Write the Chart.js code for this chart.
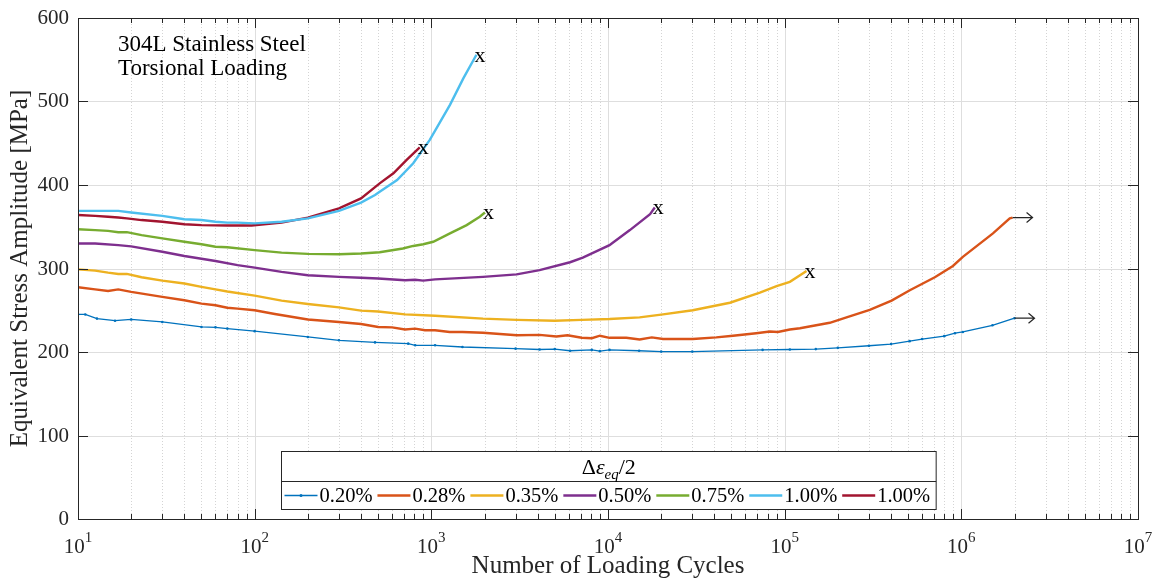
<!DOCTYPE html>
<html>
<head>
<meta charset="utf-8">
<script src="https://cdn.jsdelivr.net/npm/chart.js@4.4.0/dist/chart.umd.min.js"></script>
<style>
  html, body { margin: 0; padding: 0; background: #fff; }
</style>
</head>
<body>
<canvas id="chart" width="1160" height="582"></canvas>
<script>
const SERIF = '"Liberation Serif", "DejaVu Serif", serif';
const INK = "#262626";

// strain amplitude of each test, same order as the curves below
const seriesLabels = ["0.20%", "0.28%", "0.35%", "0.50%", "0.75%", "1.00%", "1.00%"];
const seriesColors = ["#0072BD", "#D95319", "#EDB120", "#7E2F8E", "#77AC30", "#4DBEEE", "#A2142F"];
// "x" = specimen failed, "arrow" = runout
const seriesEnds = ["arrow", "arrow", "x", "x", "x", "x", "x"];

const cycles020 = [10, 11, 12.8, 16.2, 20, 30, 50, 60, 70, 100, 200, 300, 480, 740, 810, 1050, 1500, 3000, 4100, 5000, 6100, 8100, 9000, 10200, 15000, 20000, 30000, 75000, 107000, 150000, 200000, 300000, 400000, 510000, 600000, 800000, 920000, 1020000, 1500000, 2000000];
const stress020 = [245, 245, 240, 237.5, 239, 236, 230, 229.5, 228, 225, 218, 214, 211.5, 210, 208, 208, 206, 204, 203, 203.5, 201.5, 202.5, 201, 202.5, 201.5, 200.5, 200.5, 202.5, 203, 203.5, 205, 207.5, 209.5, 213, 215.5, 219, 222.5, 224, 232, 240.5];

const cycles028 = [10, 12.5, 14.8, 16.9, 20, 30, 40, 50, 60, 70, 80, 100, 130, 200, 300, 400, 500, 600, 710, 810, 920, 1050, 1270, 1500, 1960, 3050, 4100, 5100, 5900, 7100, 8100, 9000, 10200, 12700, 15100, 17700, 20500, 30200, 41000, 51000, 69000, 82500, 91500, 107000, 122000, 180000, 224000, 303000, 403000, 511000, 708000, 896000, 1020000, 1510000, 1880000, 1950000];
const stress028 = [277.5, 275, 273, 275, 272, 266, 262, 258, 256, 253, 252, 250, 245.5, 239, 236, 233.5, 230, 229.5, 227, 228, 226, 226, 224, 224, 223, 220, 220.5, 218.5, 220, 217, 216.5, 219.5, 217, 217, 215, 217.5, 215.5, 215.5, 217.5, 219.5, 222.5, 224.5, 224, 227, 228.5, 235, 241.5, 250.5, 261.5, 274, 289.5, 303, 314, 342, 360, 361];

const cycles035 = [10, 12.5, 14.8, 16.9, 18.9, 22.9, 30, 40, 50, 60, 70, 100, 142, 200, 300, 400, 500, 710, 1050, 1960, 3050, 5000, 7100, 10200, 15100, 20500, 30200, 49000, 72400, 90000, 107000, 133000];
const stress035 = [299, 297.5, 295, 293.5, 293.5, 289.5, 285.5, 282, 278, 275, 272.5, 267.5, 261.5, 257.5, 253.5, 249.5, 248.5, 245, 243.5, 240, 238.5, 237.5, 238.5, 239.5, 241.5, 245, 250, 259, 271, 279, 284, 297];

const cycles050 = [10, 12.5, 16.9, 20, 30, 40, 60, 80, 100, 142, 200, 300, 400, 500, 710, 810, 900, 1050, 1960, 3040, 4100, 6100, 7200, 10200, 10500, 13300, 17300, 18400];
const stress050 = [330, 330, 328, 326.5, 320, 315, 309, 304, 301, 296, 292, 290, 289, 288, 286, 286.5, 285.5, 287, 290, 293, 298, 307.5, 313, 328, 330, 346, 365, 373];

const cycles075 = [10, 12.5, 14.8, 16.9, 18.9, 22.9, 30, 40, 50, 60, 70, 100, 142, 200, 300, 400, 510, 690, 790, 900, 1025, 1275, 1585, 1880, 2010];
const stress075 = [347, 346, 345, 343.5, 343.5, 340, 336, 332, 329, 326, 325.5, 322, 319, 317.5, 317, 318, 319.5, 324, 327, 329, 332, 342, 352, 362, 367];

const cycles100a = [10, 12.5, 16.9, 20, 30, 40, 50, 60, 70, 80, 100, 142, 200, 300, 400, 480, 510, 640, 790, 980, 1275, 1520, 1800];
const stress100a = [369, 369, 369, 367, 363, 359, 358, 356, 355, 355, 354, 356, 360, 369, 379, 388, 392, 406, 426, 454, 496, 528, 556];

const cycles100b = [10, 12.5, 14.8, 16.9, 18.9, 22.9, 30, 40, 50, 70, 96, 142, 200, 300, 400, 510, 610, 725, 860];
const stress100b = [364, 363, 362, 361, 360, 358, 356, 353, 352, 351.5, 351.5, 355, 361, 372, 384, 402, 414, 430, 445];

const allCycles = [cycles020, cycles028, cycles035, cycles050, cycles075, cycles100a, cycles100b];
const allStress = [stress020, stress028, stress035, stress050, stress075, stress100a, stress100b];

const xDecades = [10, 100, 1000, 10000, 100000, 1000000, 10000000];
const yTicks = [0, 100, 200, 300, 400, 500, 600];

const datasets = seriesLabels.map((label, i) => ({
  label: label,
  data: allCycles[i].map((n, j) => ({ x: n, y: allStress[i][j] })),
  borderColor: seriesColors[i],
  backgroundColor: seriesColors[i],
  borderWidth: i === 0 ? 1.3 : 2.4,
  pointRadius: i === 0 ? 1.3 : 0,
  pointBorderWidth: 0,
  tension: 0,
  fill: false
}));

// MATLAB style axes: grid, inward ticks, box, labels, legend, end markers
const matlabAxes = {
  id: "matlabAxes",
  beforeDatasetsDraw(chart) {
    const { ctx, chartArea: a } = chart;
    const xs = chart.scales.x, ys = chart.scales.y;
    ctx.save();
    // minor x grid (dotted)
    ctx.strokeStyle = "#d4d4d4";
    ctx.lineWidth = 1;
    ctx.setLineDash([1, 2]);
    for (let d = 0; d < xDecades.length - 1; d++) {
      for (let k = 2; k <= 9; k++) {
        const px = Math.round(xs.getPixelForValue(xDecades[d] * k)) + 0.5;
        ctx.beginPath(); ctx.moveTo(px, a.top); ctx.lineTo(px, a.bottom); ctx.stroke();
      }
    }
    ctx.setLineDash([]);
    ctx.strokeStyle = "#dedede";
    xDecades.slice(1, -1).forEach(v => {
      const px = Math.round(xs.getPixelForValue(v)) + 0.5;
      ctx.beginPath(); ctx.moveTo(px, a.top); ctx.lineTo(px, a.bottom); ctx.stroke();
    });
    yTicks.slice(1, -1).forEach(v => {
      const py = Math.round(ys.getPixelForValue(v)) + 0.5;
      ctx.beginPath(); ctx.moveTo(a.left, py); ctx.lineTo(a.right, py); ctx.stroke();
    });
    ctx.restore();
  },
  afterDatasetsDraw(chart) {
    const { ctx, chartArea: a } = chart;
    const xs = chart.scales.x, ys = chart.scales.y;
    ctx.save();

    // end markers
    chart.data.datasets.forEach((ds, i) => {
      const pts = chart.getDatasetMeta(i).data;
      const p = pts[pts.length - 1];
      ctx.fillStyle = "#000";
      ctx.strokeStyle = INK;
      if (seriesEnds[i] === "x") {
        ctx.font = "22px " + SERIF;
        ctx.textAlign = "left";
        ctx.textBaseline = "middle";
        ctx.fillText("x", p.x - 2, p.y + 1);
      } else {
        ctx.lineWidth = 1.2;
        const tip = p.x + 20;
        ctx.beginPath();
        ctx.moveTo(p.x, p.y); ctx.lineTo(tip, p.y);
        ctx.moveTo(tip - 6, p.y - 5); ctx.lineTo(tip, p.y); ctx.lineTo(tip - 6, p.y + 5);
        ctx.stroke();
      }
    });

    // box
    ctx.strokeStyle = INK;
    ctx.lineWidth = 1;
    ctx.strokeRect(Math.round(a.left) + 0.5, Math.round(a.top) + 0.5, Math.round(a.right - a.left), Math.round(a.bottom - a.top));

    // x ticks
    for (let d = 0; d < xDecades.length; d++) {
      const px = Math.round(xs.getPixelForValue(xDecades[d])) + 0.5;
      ctx.beginPath();
      ctx.moveTo(px, a.bottom); ctx.lineTo(px, a.bottom - 10);
      ctx.moveTo(px, a.top); ctx.lineTo(px, a.top + 10);
      ctx.stroke();
      if (d < xDecades.length - 1) {
        for (let k = 2; k <= 9; k++) {
          const mx = Math.round(xs.getPixelForValue(xDecades[d] * k)) + 0.5;
          ctx.beginPath();
          ctx.moveTo(mx, a.bottom); ctx.lineTo(mx, a.bottom - 5);
          ctx.moveTo(mx, a.top); ctx.lineTo(mx, a.top + 5);
          ctx.stroke();
        }
      }
    }
    // y ticks and labels
    ctx.fillStyle = INK;
    ctx.font = "21px " + SERIF;
    ctx.textAlign = "right";
    ctx.textBaseline = "middle";
    yTicks.forEach(v => {
      const py = Math.round(ys.getPixelForValue(v)) + 0.5;
      ctx.beginPath();
      ctx.moveTo(a.left, py); ctx.lineTo(a.left + 10, py);
      ctx.moveTo(a.right, py); ctx.lineTo(a.right - 10, py);
      ctx.stroke();
      ctx.fillText(String(v), a.left - 9, py);
    });

    // x tick labels 10^n
    ctx.textBaseline = "alphabetic";
    ctx.textAlign = "left";
    xDecades.forEach(v => {
      const px = xs.getPixelForValue(v);
      const exp = String(Math.round(Math.log10(v)));
      ctx.font = "21px " + SERIF;
      const wb = ctx.measureText("10").width;
      ctx.font = "15px " + SERIF;
      const we = ctx.measureText(exp).width;
      const x0 = px - (wb + we) / 2;
      ctx.font = "21px " + SERIF;
      ctx.fillText("10", x0, a.bottom + 34);
      ctx.font = "15px " + SERIF;
      ctx.fillText(exp, x0 + wb, a.bottom + 23);
    });

    // axis titles
    ctx.font = "25px " + SERIF;
    ctx.textAlign = "center";
    ctx.textBaseline = "middle";
    ctx.fillText("Number of Loading Cycles", (a.left + a.right) / 2, a.bottom + 47);
    ctx.save();
    ctx.translate(20, (a.top + a.bottom) / 2);
    ctx.rotate(-Math.PI / 2);
    ctx.fillText("Equivalent Stress Amplitude [MPa]", 0, 0);
    ctx.restore();

    // annotation
    ctx.font = "23px " + SERIF;
    ctx.textAlign = "left";
    ctx.fillStyle = "#000";
    ctx.fillText("304L Stainless Steel", a.left + 40, a.top + 27);
    ctx.fillText("Torsional Loading", a.left + 40, a.top + 51);

    // legend
    ctx.font = "20.5px " + SERIF;
    const lineLen = 33, gap1 = 2, gap2 = 5;
    const widths = seriesLabels.map(s => lineLen + gap1 + ctx.measureText(s).width + gap2);
    const boxW = widths.reduce((s, w) => s + w, 0) + 4;
    const boxH = 58;
    const bx = Math.round((a.left + a.right) / 2 - boxW / 2) + 0.5;
    const by = Math.round(a.bottom - 10 - boxH) + 0.5;
    ctx.fillStyle = "#fff";
    ctx.fillRect(bx, by, boxW, boxH);
    ctx.strokeStyle = INK;
    ctx.lineWidth = 1;
    ctx.strokeRect(bx, by, boxW, boxH);
    ctx.beginPath();
    ctx.moveTo(bx, by + 30); ctx.lineTo(bx + boxW, by + 30);
    ctx.stroke();

    // legend title: Δε_eq/2
    ctx.fillStyle = "#000";
    ctx.textBaseline = "alphabetic";
    const tParts = [
      { t: "\u0394", f: "22px " + SERIF, dy: 0 },
      { t: "\u03b5", f: "italic 22px " + SERIF, dy: 0 },
      { t: "eq", f: "italic 15px " + SERIF, dy: 5 },
      { t: "/2", f: "22px " + SERIF, dy: 0 }
    ];
    let tw = 0;
    tParts.forEach(p => { ctx.font = p.f; p.w = ctx.measureText(p.t).width; tw += p.w; });
    let tx = bx + boxW / 2 - tw / 2;
    const tBase = by + 22;
    tParts.forEach(p => {
      ctx.font = p.f;
      ctx.fillText(p.t, tx, tBase + p.dy);
      tx += p.w;
    });

    // legend items
    let ix = bx + 3;
    const iy = by + 44;
    ctx.font = "20.5px " + SERIF;
    ctx.textBaseline = "middle";
    seriesLabels.forEach((s, i) => {
      ctx.strokeStyle = seriesColors[i];
      ctx.lineWidth = i === 0 ? 1.3 : 2.4;
      ctx.beginPath(); ctx.moveTo(ix, iy); ctx.lineTo(ix + lineLen, iy); ctx.stroke();
      if (i === 0) {
        ctx.fillStyle = seriesColors[i];
        ctx.beginPath(); ctx.arc(ix + lineLen / 2, iy, 1.5, 0, Math.PI * 2); ctx.fill();
      }
      ctx.fillStyle = "#000";
      ctx.fillText(s, ix + lineLen + gap1, iy + 1);
      ix += widths[i];
    });

    ctx.restore();
  }
};

const ctx = document.getElementById("chart").getContext("2d");
new Chart(ctx, {
  type: "line",
  data: { datasets: datasets },
  options: {
    responsive: false,
    animation: false,
    devicePixelRatio: 1,
    layout: { padding: { top: 18, right: 22, left: 0, bottom: 0 } },
    plugins: { legend: { display: false }, tooltip: { enabled: false } },
    scales: {
      x: {
        type: "logarithmic",
        min: 10,
        max: 10000000,
        grid: { display: false },
        border: { display: false },
        ticks: { display: false },
        afterFit: (s) => { s.height = 63; }
      },
      y: {
        min: 0,
        max: 600,
        afterBuildTicks: (s) => { s.ticks = yTicks.map(v => ({ value: v })); },
        ticks: { display: false },
        grid: { display: false },
        border: { display: false },
        afterFit: (s) => { s.width = 78; }
      }
    }
  },
  plugins: [matlabAxes]
});
</script>
</body>
</html>
